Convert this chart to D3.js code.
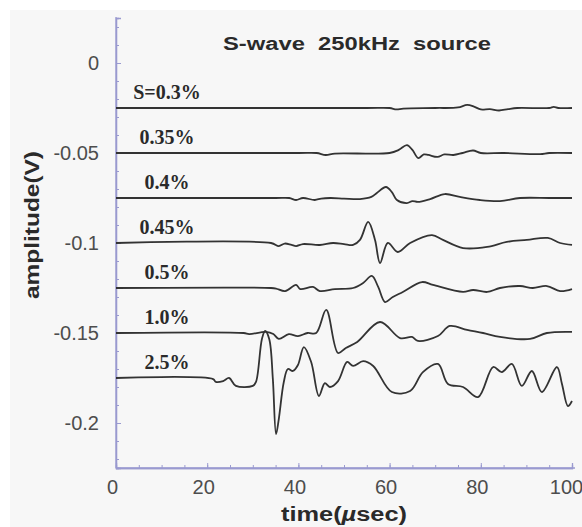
<!DOCTYPE html>
<html>
<head>
<meta charset="utf-8">
<script src="https://cdn.jsdelivr.net/npm/d3@7"></script>
<style>
  html, body { margin: 0; padding: 0; background: #ffffff; }
  svg { display: block; }
</style>
</head>
<body>
<svg id="chart" width="582" height="527"></svg>
<script>
// Waveform traces, one per strain level (time in µs, amplitude in V, offset per trace)
const strainLabels = ["S=0.3%", "0.35%", "0.4%", "0.45%", "0.5%", "1.0%", "2.5%"];

const time03 = [0, 55, 60, 61.5, 63, 70, 75, 77, 78.5, 80, 82, 84, 86, 88, 95, 96, 97, 100];
const amp03 = [-0.025, -0.025, -0.025, -0.0258, -0.0253, -0.025, -0.0247, -0.0233, -0.0242, -0.0258, -0.0256, -0.0264, -0.0256, -0.025, -0.025, -0.0244, -0.025, -0.025];

const time035 = [0, 40, 44, 46, 48, 60, 62, 63.8, 65, 66.3, 67.5, 68.5, 70.5, 72, 74, 76, 78.3, 80, 85, 93, 95, 100];
const amp035 = [-0.05, -0.05, -0.05, -0.0511, -0.0503, -0.05, -0.0483, -0.0456, -0.0483, -0.0528, -0.0508, -0.0511, -0.0522, -0.0508, -0.0511, -0.05, -0.0486, -0.05, -0.05, -0.0506, -0.05, -0.05];

const time04 = [0, 35, 38, 39.5, 41, 43.6, 45, 47, 50, 53.5, 56, 57.2, 59.2, 60.5, 61.6, 63.8, 65, 66.2, 68.9, 72.1, 75.4, 79.8, 84.2, 88.6, 95, 100];
const amp04 = [-0.075, -0.075, -0.075, -0.0761, -0.075, -0.0761, -0.0753, -0.075, -0.0753, -0.0756, -0.0744, -0.0722, -0.0689, -0.0717, -0.0761, -0.0778, -0.0767, -0.0772, -0.0756, -0.0728, -0.0744, -0.0761, -0.0767, -0.075, -0.075, -0.075];

const time045 = [0, 34, 35.7, 37, 38.5, 39.5, 41, 44.7, 47.6, 50, 52, 53.5, 55.3, 56.8, 57.9, 59.6, 61.8, 64.5, 69.3, 71.7, 76.1, 81.4, 85.7, 90.1, 94.7, 97.4, 100];
const amp045 = [-0.1, -0.1, -0.1017, -0.1003, -0.1011, -0.1017, -0.1006, -0.1011, -0.1, -0.1006, -0.1011, -0.0983, -0.0883, -0.0983, -0.1111, -0.1, -0.105, -0.1, -0.0956, -0.0983, -0.1028, -0.1022, -0.0994, -0.0983, -0.0972, -0.1, -0.1011];

const time05 = [0, 34, 35.1, 37.1, 39.5, 40.4, 43.2, 44.7, 48, 52, 54.2, 56.1, 57.5, 59, 60.7, 62.9, 67.1, 69.5, 76.1, 78.3, 81.4, 84.2, 88.6, 91.4, 94.5, 97.4, 100];
const amp05 = [-0.125, -0.125, -0.1253, -0.1267, -0.1233, -0.1256, -0.1244, -0.1267, -0.1256, -0.125, -0.1222, -0.1183, -0.1244, -0.1328, -0.13, -0.1272, -0.1217, -0.1233, -0.1272, -0.1261, -0.1272, -0.125, -0.1239, -0.125, -0.1239, -0.1267, -0.1256];

const time10 = [0, 28, 29.2, 32.9, 34.5, 35.7, 37.9, 39.9, 42, 43.9, 46.1, 48.7, 50.4, 52.9, 57.9, 62.3, 64.9, 66.2, 70.6, 73.2, 77, 80.5, 84.2, 90.8, 94.5, 100];
const amp10 = [-0.15, -0.15, -0.1506, -0.1494, -0.1506, -0.1533, -0.1506, -0.1517, -0.15, -0.15, -0.1372, -0.1611, -0.1583, -0.155, -0.1439, -0.1528, -0.1522, -0.1544, -0.1517, -0.1461, -0.1483, -0.15, -0.1522, -0.1533, -0.15, -0.1494];

const time25 = [0, 21.3, 21.9, 23.5, 24.8, 26.3, 30, 30.7, 32, 32.7, 33.6, 34.4, 35.1, 35.7, 36.8, 37.7, 38.8, 39.9, 41.2, 42.8, 44.5, 45.8, 46.9, 48.7, 50.7, 52, 54.2, 56.4, 60.5, 64.5, 67.3, 70.6, 72.8, 76.1, 79.4, 82.7, 84.6, 86.8, 89, 91.2, 93.4, 96.7, 97.8, 99.1, 100];
const amp25 = [-0.175, -0.1756, -0.1772, -0.1767, -0.175, -0.1794, -0.1794, -0.1772, -0.1533, -0.1489, -0.1533, -0.1756, -0.2061, -0.1978, -0.1772, -0.17, -0.1711, -0.1678, -0.1578, -0.1661, -0.185, -0.1778, -0.18, -0.1767, -0.1661, -0.1683, -0.1656, -0.1683, -0.1828, -0.1822, -0.1717, -0.1672, -0.1783, -0.18, -0.1856, -0.1689, -0.1717, -0.1672, -0.1794, -0.1711, -0.1828, -0.1689, -0.1783, -0.1906, -0.1878];

// Baseline offset of each trace (where its label sits)
const traceOffsets = [-0.025, -0.05, -0.075, -0.1, -0.125, -0.15, -0.175];

const xTicks = [0, 20, 40, 60, 80, 100];
const yTicks = [0, -0.05, -0.1, -0.15, -0.2];
const yTickLabels = ["0", "-0.05", "-0.1", "-0.15", "-0.2"];

const traceTimes = [time03, time035, time04, time045, time05, time10, time25];
const traceAmps = [amp03, amp035, amp04, amp045, amp05, amp10, amp25];

const svg = d3.select("#chart");

// Panel background
svg.append("rect")
  .attr("x", 10).attr("y", 10)
  .attr("width", 572).attr("height", 517)
  .attr("fill", "#f7f7f7");

const x = d3.scaleLinear().domain([0, 100]).range([116, 572]);
const y = d3.scaleLinear().domain([-0.225, 0.025]).range([468, 18]);

const axisColor = "#9a9ad0";
const labelColor = "#4d4d4d";

// Minor ticks
const yMinor = d3.range(-0.22, 0.021, 0.01);
const xMinor = d3.range(0, 100.1, 5);

const yMinorG = svg.append("g").attr("transform", `translate(${x(0)},0)`)
  .call(d3.axisLeft(y).tickValues(yMinor).tickSize(-3).tickFormat(""));
const xMinorG = svg.append("g").attr("transform", `translate(0,${y(-0.225)})`)
  .call(d3.axisBottom(x).tickValues(xMinor).tickSize(-3).tickFormat(""));

// Major ticks with labels
const yAxisG = svg.append("g").attr("transform", `translate(${x(0)},0)`)
  .call(d3.axisLeft(y).tickValues(yTicks).tickSize(-5).tickPadding(17)
    .tickFormat((d, i) => yTickLabels[i]));
const xAxisG = svg.append("g").attr("transform", `translate(0,${y(-0.225)})`)
  .call(d3.axisBottom(x).tickValues(xTicks).tickSize(-5).tickPadding(12)
    .tickFormat(d3.format("d")));

[yMinorG, xMinorG, yAxisG, xAxisG].forEach(g => {
  g.selectAll("path.domain").attr("stroke", axisColor).attr("stroke-width", 1.3);
  g.selectAll(".tick line").attr("stroke", axisColor).attr("stroke-width", 1);
  g.selectAll("text")
    .attr("fill", labelColor)
    .attr("font-family", "Liberation Sans, Arial, sans-serif")
    .attr("font-size", 20);
});
xAxisG.selectAll("text").attr("dx", d => d === 100 ? -6 : -4);

// Extend the axis lines to the panel edges
svg.append("line")
  .attr("x1", x(0)).attr("x2", x(0))
  .attr("y1", 17).attr("y2", y(-0.225))
  .attr("stroke", axisColor).attr("stroke-width", 1.3);
svg.append("line")
  .attr("x1", x(0)).attr("x2", 575)
  .attr("y1", y(-0.225)).attr("y2", y(-0.225))
  .attr("stroke", axisColor).attr("stroke-width", 1.3);

// Traces
const line = d3.line()
  .x(d => x(d[0]))
  .y(d => y(d[1]))
  .curve(d3.curveCatmullRom.alpha(0.5));

traceTimes.forEach((ts, i) => {
  const pts = ts.map((t, j) => [t, traceAmps[i][j]]);
  svg.append("path")
    .datum(pts)
    .attr("d", line)
    .attr("fill", "none")
    .attr("stroke", "#333333")
    .attr("stroke-width", 1.8)
    .attr("stroke-linejoin", "round");
});

// Strain labels above each trace
svg.append("g").selectAll("text")
  .data(strainLabels)
  .join("text")
  .attr("x", 167)
  .attr("y", (d, i) => y(traceOffsets[i]) - 9)
  .attr("text-anchor", "middle")
  .attr("font-family", "Liberation Serif, Times New Roman, serif")
  .attr("font-weight", "bold")
  .attr("font-size", 20)
  .attr("fill", "#2a2a2a")
  .text(d => d);

// Title
svg.append("text")
  .attr("x", 357).attr("y", 50)
  .attr("text-anchor", "middle")
  .attr("font-family", "Liberation Sans, Arial, sans-serif")
  .attr("font-weight", "bold")
  .attr("font-size", 18)
  .attr("fill", "#2a2a2a")
  .attr("textLength", 268)
  .attr("lengthAdjust", "spacingAndGlyphs")
  .style("white-space", "pre")
  .text("S-wave  250kHz  source");

// Axis titles
const xTitle = svg.append("text")
  .attr("x", 344).attr("y", 521)
  .attr("text-anchor", "middle")
  .attr("font-family", "Liberation Sans, Arial, sans-serif")
  .attr("font-weight", "bold")
  .attr("font-size", 20)
  .attr("fill", "#2a2a2a")
  .attr("textLength", 126)
  .attr("lengthAdjust", "spacingAndGlyphs");
xTitle.append("tspan").text("time(");
xTitle.append("tspan").attr("font-style", "italic").text("µ");
xTitle.append("tspan").text("sec)");

svg.append("text")
  .attr("transform", "translate(39,225) rotate(-90)")
  .attr("text-anchor", "middle")
  .attr("font-family", "Liberation Sans, Arial, sans-serif")
  .attr("font-weight", "bold")
  .attr("font-size", 20)
  .attr("fill", "#2a2a2a")
  .attr("textLength", 148)
  .attr("lengthAdjust", "spacingAndGlyphs")
  .text("amplitude(V)");
</script>
</body>
</html>
